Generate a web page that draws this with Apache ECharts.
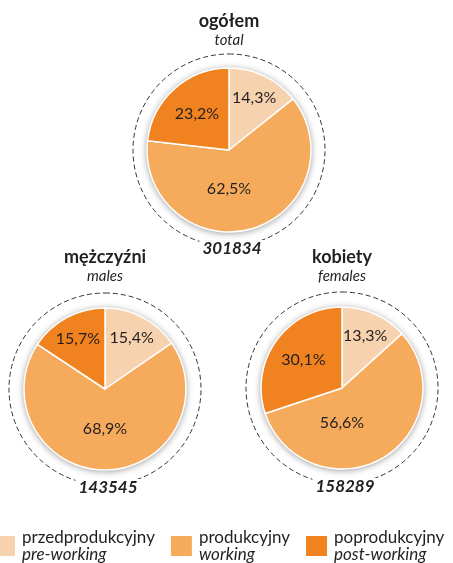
<!DOCTYPE html>
<html>
<head>
<meta charset="utf-8">
<script src="https://cdn.jsdelivr.net/npm/echarts@6/dist/echarts.min.js"></script>
<style>
html,body{margin:0;padding:0;background:#fff;}
#chart{width:453px;height:563px;}
</style>
</head>
<body>
<div id="chart"></div>
<script>
// ---- data ----
const categoriesPL = ['przedprodukcyjny', 'produkcyjny', 'poprodukcyjny'];
const categoriesEN = ['pre-working', 'working', 'post-working'];
const groupTitlesPL = ['ogółem', 'mężczyźni', 'kobiety'];
const groupTitlesEN = ['total', 'males', 'females'];
const groupTotals = ['301834', '143545', '158289'];
const totalValues = [14.3, 62.5, 23.2];
const maleValues = [15.4, 68.9, 15.7];
const femaleValues = [13.3, 56.6, 30.1];
const groupValues = [totalValues, maleValues, femaleValues];

// ---- layout / style ----
const colors = ['#F7D2AF', '#F5AA5C', '#F0821F'];
const centers = [[229, 150], [105, 389], [342, 388]];
const R = [82, 81, 81];
const RD = 96;
const FONT = 'Lato, "Open Sans", sans-serif';
const TXT = '#231F20';

const fmt = v => v.toFixed(1).replace('.', ',') + '%';

const series = [];
const titles = [];

groupValues.forEach((vals, g) => {
  const c = centers[g];
  const r = R[g];
  const data = vals.map((v, i) => ({ name: categoriesPL[i], value: v, itemStyle: { color: colors[i] } }));
  series.push({
    type: 'pie', center: c, radius: [0, r], startAngle: 90, clockwise: true,
    silent: true, z: 3, animation: false,
    itemStyle: { borderColor: '#fff', borderWidth: 1.5 },
    label: { show: false }, labelLine: { show: false },
    data: data
  });
});

groupValues.forEach((vals, g) => {
  const c = centers[g];
  const r = R[g];
  // dashed ring
  series.push({
    type: 'pie', center: c, radius: [0, RD], silent: true, z: 1, animation: false,
    label: { show: false }, labelLine: { show: false },
    itemStyle: { color: 'rgba(0,0,0,0)', borderColor: '#333', borderWidth: 1, borderType: [5, 3] },
    data: [{ name: 'ring' + g, value: 1 }]
  });
  // shadow disc
  series.push({
    type: 'pie', center: c, radius: [0, r], silent: true, z: 2, animation: false,
    label: { show: false }, labelLine: { show: false },
    itemStyle: { color: '#fff', shadowBlur: 7, shadowColor: 'rgba(0,0,0,0.45)', shadowOffsetY: 1 },
    data: [{ name: 'disc' + g, value: 1 }]
  });
  // label tiers
  const tiers = [
    { radius: [0.34 * r, r], test: v => v < 20 },
    { radius: [0.1 * r, r], test: v => v >= 20 && v < 40 },
    { radius: [0, 0.92 * r], test: v => v >= 40, centerX: true }
  ];
  tiers.forEach(t => {
    const s = {
      type: 'pie', center: c, radius: t.radius, startAngle: 90, clockwise: true,
      silent: true, z: 4, animation: false,
      itemStyle: { color: 'rgba(0,0,0,0)' },
      labelLine: { show: false },
      label: {
        show: true, position: 'inside', color: TXT, fontFamily: FONT, fontSize: 16,
        formatter: p => t.test(p.value) ? fmt(p.value) : ''
      },
      data: vals.map((v, i) => ({ name: 'lbl' + i, value: v }))
    };
    if (t.centerX) {
      s.labelLayout = p => ({ dx: c[0] - (p.labelRect.x + p.labelRect.width / 2) });
    }
    series.push(s);
  });
  // titles
  titles.push({
    text: groupTitlesPL[g], subtext: groupTitlesEN[g],
    left: c[0], top: g === 0 ? 12 : 248, textAlign: 'center', itemGap: 3, padding: 0,
    textStyle: { fontFamily: FONT, fontWeight: 'bold', fontSize: 18, color: TXT },
    subtextStyle: { fontFamily: FONT, fontStyle: 'italic', fontSize: 15, color: TXT }
  });
  titles.push({
    text: groupTotals[g], left: c[0], top: c[1] + RD - 6, textAlign: 'center',
    padding: [0, 3], backgroundColor: '#fff',
    textStyle: { fontFamily: FONT, fontWeight: 'bold', fontStyle: 'italic', fontSize: 17, color: TXT }
  });
});

const option = {
  backgroundColor: '#fff',
  animation: false,
  title: titles,
  legend: {
    left: -13, top: 524, orient: 'horizontal', icon: 'rect',
    itemWidth: 23, itemHeight: 22, itemGap: 14, selectedMode: false,
    data: categoriesPL.map((n, i) => ({ name: n, itemStyle: { color: colors[i] } })),
    formatter: name => name + '\n{e|' + categoriesEN[categoriesPL.indexOf(name)] + '}',
    textStyle: {
      fontFamily: FONT, fontSize: 17, color: TXT, lineHeight: 17, padding: [0, 0, 0, 1],
      rich: { e: { fontFamily: FONT, fontStyle: 'italic', fontSize: 17, lineHeight: 17, color: TXT } }
    }
  },
  series: series
};

const chart = echarts.init(document.getElementById('chart'), null, { renderer: 'canvas' });
chart.setOption(option);
</script>
</body>
</html>
